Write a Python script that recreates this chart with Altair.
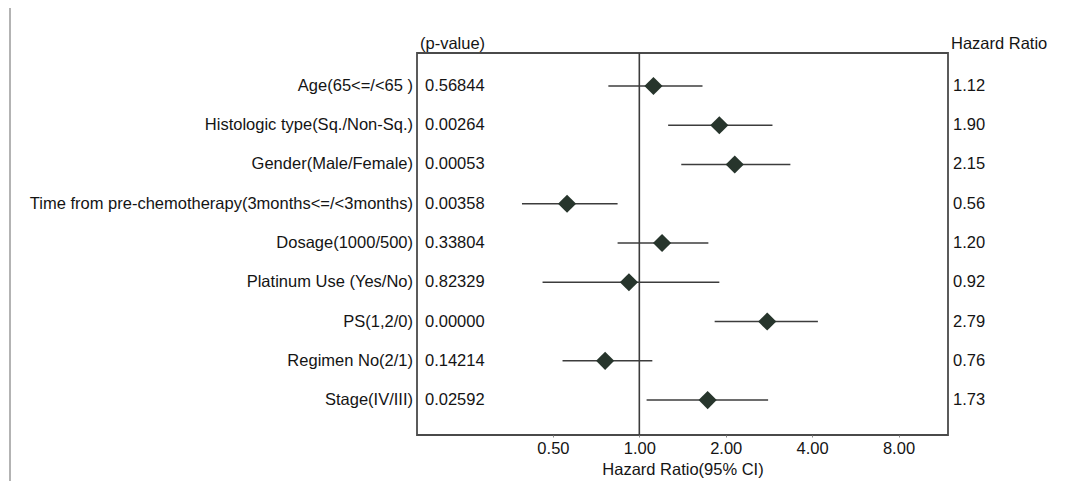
import altair as alt
import pandas as pd

labels = [
    "Age(65<=/<65 )",
    "Histologic type(Sq./Non-Sq.)",
    "Gender(Male/Female)",
    "Time from pre-chemotherapy(3months<=/<3months)",
    "Dosage(1000/500)",
    "Platinum Use (Yes/No)",
    "PS(1,2/0)",
    "Regimen No(2/1)",
    "Stage(IV/III)",
]
pvalues = ["0.56844", "0.00264", "0.00053", "0.00358", "0.33804",
           "0.82329", "0.00000", "0.14214", "0.02592"]
hr = [1.12, 1.90, 2.15, 0.56, 1.20, 0.92, 2.79, 0.76, 1.73]
ci_low = [0.78, 1.26, 1.40, 0.39, 0.84, 0.46, 1.83, 0.54, 1.06]
ci_high = [1.66, 2.91, 3.36, 0.84, 1.74, 1.90, 4.19, 1.11, 2.81]
x_ticks = [0.5, 1, 2, 4, 8]

df = pd.DataFrame({
    "row": list(range(1, len(labels) + 1)),
    "label": labels,
    "p": pvalues,
    "hr": hr,
    "hr_txt": [f"{v:.2f}" for v in hr],
    "lo": ci_low,
    "hi": ci_high,
})

W, H = 531, 382
FONT = "Liberation Sans"
FS = 16.5
TXT = "#141414"
LINE = "#3c3c3c"

xscale = alt.Scale(type="log", domain=[0.168, 11.9], nice=False)
yscale = alt.Scale(domain=[0.16, 9.89], reverse=True, nice=False, zero=False)

base = alt.Chart(df)

x_axis = alt.Axis(values=x_ticks, format=".2f", grid=False, domain=False,
                  tickSize=2, tickColor="#888888", labelFont=FONT, labelFontSize=FS,
                  labelColor=TXT, labelPadding=3, title="Hazard Ratio(95% CI)",
                  titleFont=FONT, titleFontSize=FS, titleFontWeight="normal",
                  titleColor=TXT, titlePadding=5)

ci = base.mark_rule(color=LINE, strokeWidth=1.6).encode(
    x=alt.X("lo:Q", scale=xscale, axis=x_axis),
    x2="hi:Q",
    y=alt.Y("row:Q", scale=yscale, axis=None),
)

ref = alt.Chart(pd.DataFrame({"v": [1.0]})).mark_rule(color=LINE, strokeWidth=1.6).encode(
    x=alt.X("v:Q", scale=xscale)
)

page_edge = alt.Chart(pd.DataFrame({"v": [0]})).mark_rule(color="#9a9a9a", strokeWidth=1.5).encode(
    x=alt.value(-407), y=alt.value(-45), y2=alt.value(H + 46)
)

pts = base.mark_point(shape="diamond", filled=True, size=330, color="#27352c", opacity=1).encode(
    x=alt.X("hr:Q", scale=xscale),
    y=alt.Y("row:Q", scale=yscale),
)

left_txt = base.mark_text(align="right", baseline="middle", font=FONT, fontSize=FS,
                          color=TXT).encode(
    x=alt.value(-4), y=alt.Y("row:Q", scale=yscale), text="label:N")

p_txt = base.mark_text(align="left", baseline="middle", font=FONT, fontSize=FS,
                       color=TXT).encode(
    x=alt.value(8), y=alt.Y("row:Q", scale=yscale), text="p:N")

hr_txt = base.mark_text(align="left", baseline="middle", font=FONT, fontSize=FS,
                        color=TXT).encode(
    x=alt.value(W + 5), y=alt.Y("row:Q", scale=yscale), text="hr_txt:N")

headers = pd.DataFrame({"t": ["(p-value)", "Hazard Ratio"], "xp": [3, W + 3]})
head = alt.Chart(headers).mark_text(align="left", baseline="middle", font=FONT,
                                    fontSize=FS, color=TXT).encode(
    x=alt.X("xp:Q", scale=None), y=alt.value(-9), text="t:N")

chart = alt.layer(page_edge, ci, ref, pts, left_txt, p_txt, hr_txt, head).properties(
    width=W, height=H,
    autosize=alt.AutoSizeParams(type="none"),
    padding={"left": 409, "top": 45, "right": 110, "bottom": 46},
    background="white",
).configure_view(stroke="#4a4a4a", strokeWidth=1.8)

chart.save("out.html", embed_options={"renderer": "svg", "actions": False})
